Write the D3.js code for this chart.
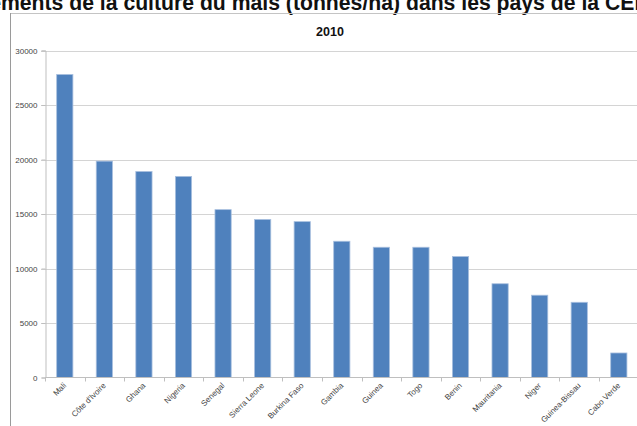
<!DOCTYPE html>
<html>
<head>
<meta charset="utf-8">
<script src="https://cdn.jsdelivr.net/npm/d3@7"></script>
<style>
  html, body { margin: 0; padding: 0; background: #fff; overflow: hidden; }
  svg { display: block; }
</style>
</head>
<body>
<svg id="chart" width="637" height="426"></svg>
<script>
// Maize yields by ECOWAS country, 2010
const countries = ["Mali", "Côte d'Ivoire", "Ghana", "Nigeria", "Senegal", "Sierra Leone",
  "Burkina Faso", "Gambia", "Guinea", "Togo", "Benin", "Mauritania", "Niger",
  "Guinea-Bissau", "Cabo Verde"];
const yields2010 = [27800, 19850, 18900, 18450, 15400, 14500, 14300, 12500, 11950, 11950,
  11100, 8600, 7550, 6900, 2250];
const yTicks = [0, 5000, 10000, 15000, 20000, 25000, 30000];
const headline = "Rendements de la culture du maïs (tonnes/ha) dans les pays de la CEDEAO";
const chartTitle = "2010";

const svg = d3.select("#chart");

// Headline above the chart frame
const head = svg.append("text")
  .attr("y", 10)
  .attr("font-family", "Liberation Sans, Arial, sans-serif")
  .attr("font-weight", "bold")
  .attr("font-size", 21)
  .attr("fill", "#111")
  .text(headline);
const headNode = head.node();
const lead = headNode.getSubStringLength(0, 5);        // "Rende"
const span = headNode.getSubStringLength(5, headline.indexOf("CEDEAO") + 2 - 5);
const fs = 21 * 634 / span;
head.attr("font-size", fs).attr("x", 1 - lead * fs / 21);

// Chart frame
svg.append("line").attr("x1", 10).attr("x2", 637).attr("y1", 13.5).attr("y2", 13.5)
  .attr("stroke", "#c4c4c4");
svg.append("line").attr("x1", 10.5).attr("x2", 10.5).attr("y1", 13).attr("y2", 426)
  .attr("stroke", "#9a9a9a");

const x = d3.scaleBand().domain(countries).range([45, 638.6])
  .paddingInner(0.59).paddingOuter(0.295);
const y = d3.scaleLinear().domain([0, 30000]).range([377.5, 50.5]);

// Title
svg.append("text").attr("x", 330).attr("y", 36).attr("text-anchor", "middle")
  .attr("font-family", "Liberation Sans, Arial, sans-serif").attr("font-weight", "bold")
  .attr("font-size", 12.5).attr("fill", "#111").text(chartTitle);

// Gridlines
svg.append("g").selectAll("line").data(yTicks.filter(d => d > 0)).join("line")
  .attr("x1", 41).attr("x2", 637)
  .attr("y1", d => Math.round(y(d)) + 0.5).attr("y2", d => Math.round(y(d)) + 0.5)
  .attr("stroke", "#d4d4d4");

// Y axis
const yAxis = svg.append("g").attr("transform", "translate(45.5,0)")
  .call(d3.axisLeft(y).tickValues(yTicks).tickSize(4).tickPadding(4).tickFormat(d3.format("d")));
yAxis.select(".domain").attr("stroke", "#bfbfbf");
yAxis.selectAll(".tick line").attr("stroke", "#bfbfbf");
yAxis.selectAll(".tick text").attr("font-family", "Liberation Sans, Arial, sans-serif")
  .attr("font-size", 8).attr("fill", "#444");

// Bars
svg.append("g").selectAll("rect").data(countries).join("rect")
  .attr("x", d => x(d))
  .attr("y", (d, i) => y(yields2010[i]))
  .attr("width", x.bandwidth())
  .attr("height", (d, i) => y(0) - y(yields2010[i]))
  .attr("fill", "#4f81bd")
  .attr("stroke", "#a9c0df").attr("stroke-width", 0.8);

// X axis with ticks at category boundaries
svg.append("line").attr("x1", 45).attr("x2", 637).attr("y1", 377.5).attr("y2", 377.5)
  .attr("stroke", "#bfbfbf");
const step = x.step();
svg.append("g").selectAll("line").data(d3.range(countries.length + 1)).join("line")
  .attr("x1", i => Math.round(45 + i * step) + 0.5).attr("x2", i => Math.round(45 + i * step) + 0.5)
  .attr("y1", 377.5).attr("y2", 381.5).attr("stroke", "#bfbfbf");

svg.append("g").selectAll("text").data(countries).join("text")
  .attr("transform", d => `translate(${x(d) + x.bandwidth() / 2 + 2},386) rotate(-45)`)
  .attr("text-anchor", "end")
  .attr("font-family", "Liberation Sans, Arial, sans-serif")
  .attr("font-size", 8).attr("fill", "#444")
  .text(d => d);
</script>
</body>
</html>
